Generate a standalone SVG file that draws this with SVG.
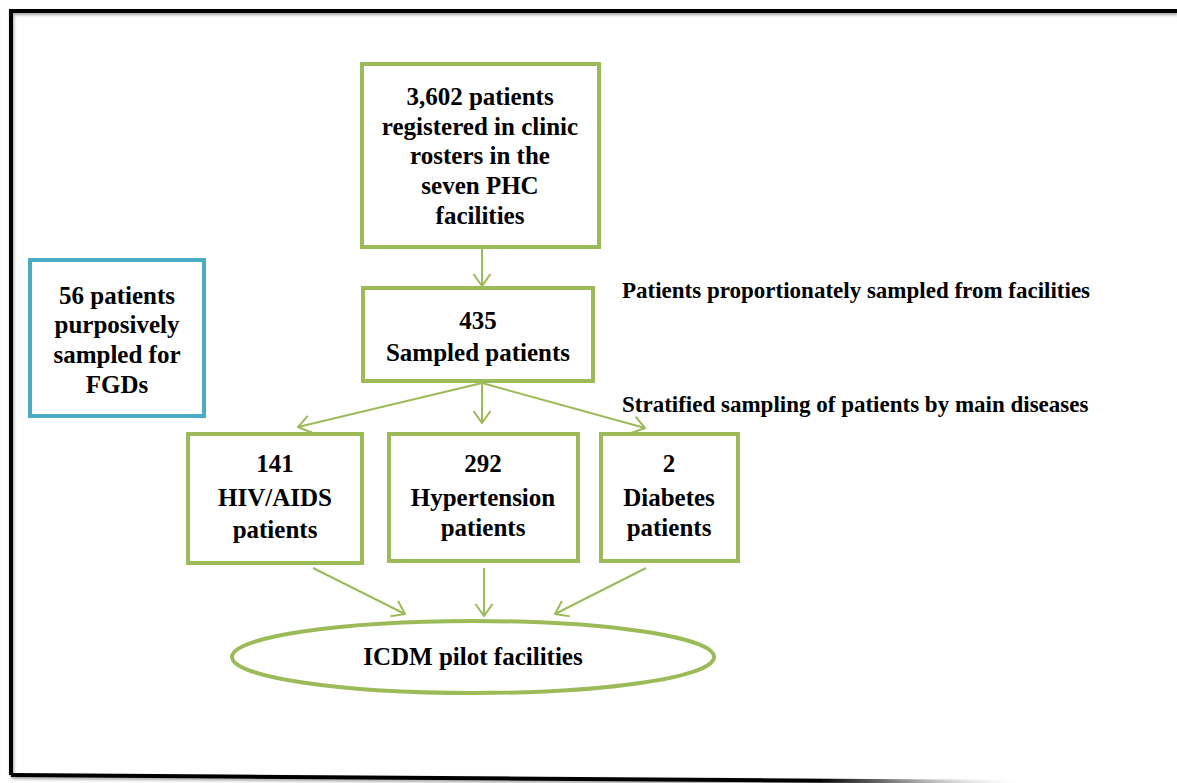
<svg xmlns="http://www.w3.org/2000/svg" width="1177" height="783" viewBox="0 0 1177 783">
  <defs>
    <style>
      .box { fill: #ffffff; stroke: #9BBB59; stroke-width: 4; }
      .side { fill: #ffffff; stroke: #4BACC6; stroke-width: 4; }
      text { font-family: Liberation Serif, DejaVu Serif, serif; font-weight: 700; fill: #000000; }
      .lbl { font-size: 25px; text-anchor: middle; }
      .note { font-size: 23px; }
      .flow { stroke: #9BBB59; stroke-width: 2; fill: none; marker-end: url(#greenHead); }
      .frame { stroke: #000000; stroke-width: 4; fill: none; }
    </style>
    <marker id="greenHead" markerUnits="userSpaceOnUse" viewBox="0 0 14 20" refX="13" refY="10" markerWidth="14" markerHeight="20" orient="auto">
      <path d="M1,1.5 L13,10 L1,18.5" fill="none" stroke="#9BBB59" stroke-width="2"/>
    </marker>
    <marker id="blueHead" markerUnits="userSpaceOnUse" viewBox="0 0 24 26" refX="21" refY="13" markerWidth="24" markerHeight="26" orient="auto">
      <path d="M3,3 L21,13 L3,23" fill="none" stroke="#4F81BD" stroke-width="5" stroke-linecap="round" stroke-linejoin="round"/>
    </marker>
    <filter id="soft" x="-5%" y="-5%" width="110%" height="110%">
      <feDropShadow dx="1" dy="2" stdDeviation="1.5" flood-color="#000000" flood-opacity="0.35"/>
    </filter>
    <linearGradient id="fade" gradientUnits="userSpaceOnUse" x1="11" y1="0" x2="1020" y2="0">
      <stop offset="0" stop-color="#000000"/>
      <stop offset="0.8" stop-color="#000000"/>
      <stop offset="0.87" stop-color="#777777"/>
      <stop offset="1" stop-color="#ffffff" stop-opacity="0"/>
    </linearGradient>
  </defs>

  <rect x="0" y="0" width="1177" height="783" fill="#ffffff"/>

  <!-- outer frame -->
  <g id="frame" filter="url(#soft)">
    <path class="frame" d="M1177,11 L11,11 L11,775"/>
    <path d="M11,775 L1020,782" stroke="url(#fade)" stroke-width="4" fill="none"/>
  </g>

  <!-- connectors -->
  <g id="connectors">
    <line class="flow" x1="482" y1="248" x2="482" y2="286"/>
    <line class="flow" x1="482" y1="383" x2="298" y2="427"/>
    <line class="flow" x1="482" y1="383" x2="482" y2="423"/>
    <line class="flow" x1="482" y1="383" x2="645" y2="428"/>
    <line class="flow" x1="313" y1="568" x2="405" y2="614"/>
    <line class="flow" x1="484" y1="568" x2="484" y2="616"/>
    <line class="flow" x1="646" y1="568" x2="555" y2="614"/>
    <line x1="352" y1="331" x2="219" y2="331" stroke="#4F81BD" stroke-width="5" marker-end="url(#blueHead)" filter="url(#soft)"/>
  </g>

  <g id="registered">
    <rect class="box" x="362" y="64" width="237" height="183"/>
    <text class="lbl" x="480" y="105">3,602 patients</text>
    <text class="lbl" x="480" y="135">registered in clinic</text>
    <text class="lbl" x="480" y="164">rosters in the</text>
    <text class="lbl" x="480" y="194">seven PHC</text>
    <text class="lbl" x="480" y="224">facilities</text>
  </g>

  <g id="sampled">
    <rect class="box" x="363" y="288" width="230" height="93"/>
    <text class="lbl" x="478" y="329">435</text>
    <text class="lbl" x="478" y="361">Sampled patients</text>
  </g>

  <g id="fgd">
    <rect class="side" x="30" y="260" width="174" height="156"/>
    <text class="lbl" x="117" y="304">56 patients</text>
    <text class="lbl" x="117" y="333">purposively</text>
    <text class="lbl" x="117" y="363">sampled for</text>
    <text class="lbl" x="117" y="393">FGDs</text>
  </g>

  <g id="hiv">
    <rect class="box" x="188" y="434" width="174" height="129"/>
    <text class="lbl" x="275" y="472">141</text>
    <text class="lbl" x="275" y="506">HIV/AIDS</text>
    <text class="lbl" x="275" y="538">patients</text>
  </g>

  <g id="hypertension">
    <rect class="box" x="389" y="434" width="189" height="127"/>
    <text class="lbl" x="483" y="472">292</text>
    <text class="lbl" x="483" y="506">Hypertension</text>
    <text class="lbl" x="483" y="536">patients</text>
  </g>

  <g id="diabetes">
    <rect class="box" x="601" y="434" width="137" height="127"/>
    <text class="lbl" x="669" y="472">2</text>
    <text class="lbl" x="669" y="506">Diabetes</text>
    <text class="lbl" x="669" y="536">patients</text>
  </g>

  <g id="pilot">
    <ellipse class="box" cx="473" cy="657" rx="241" ry="36"/>
    <text class="lbl" x="473" y="665">ICDM pilot facilities</text>
  </g>

  <g id="notes">
    <text class="note" x="622" y="298">Patients proportionately sampled from facilities</text>
    <text class="note" x="622" y="412">Stratified sampling of patients by main diseases</text>
  </g>
</svg>
